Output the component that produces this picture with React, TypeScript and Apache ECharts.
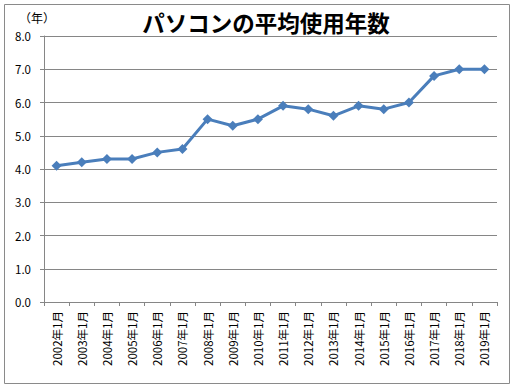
import React, { useEffect, useRef } from "react";
import * as echarts from "echarts";

const categories = [
  "2002年1月", "2003年1月", "2004年1月", "2005年1月", "2006年1月", "2007年1月",
  "2008年1月", "2009年1月", "2010年1月", "2011年1月", "2012年1月", "2013年1月",
  "2014年1月", "2015年1月", "2016年1月", "2017年1月", "2018年1月", "2019年1月",
];
const values = [4.1, 4.2, 4.3, 4.3, 4.5, 4.6, 5.5, 5.3, 5.5, 5.9, 5.8, 5.6, 5.9, 5.8, 6.0, 6.8, 7.0, 7.0];
const titleText = "パソコンの平均使用年数";
const unitText = "（年）";

export default function App() {
  const ref = useRef<HTMLDivElement>(null);
  useEffect(() => {
    if (!ref.current) return;
    const chart = echarts.init(ref.current, null, { renderer: "svg" });
    const font = "'Noto Sans CJK JP', 'Noto Sans', sans-serif";
    chart.setOption({
      animation: false,
      backgroundColor: "#ffffff",
      title: {
        text: titleText,
        left: 261,
        textAlign: "center",
        top: 6,
        textStyle: { fontFamily: font, fontSize: 22.5, fontWeight: "bold", color: "#000" },
      },
      graphic: [
        {
          type: "rect",
          shape: { x: 4.5, y: 4.5, width: 505, height: 379 },
          style: { fill: "none", stroke: "#8a8a8a", lineWidth: 1 },
          silent: true,
        },
        {
          type: "text",
          x: 19,
          y: 11,
          style: { text: unitText, font: `12px ${font}`, fill: "#000" },
        },
      ],
      grid: { left: 44, right: 18, top: 36, bottom: 86, containLabel: false },
      xAxis: {
        type: "category",
        data: categories,
        boundaryGap: true,
        axisLine: { show: true, lineStyle: { color: "#868686", width: 1 } },
        axisTick: { show: true, length: 4, lineStyle: { color: "#868686" } },
        axisLabel: {
          rotate: 90,
          margin: 9,
          fontSize: 11.5,
          fontFamily: font,
          color: "#000",
          interval: 0,
        },
        splitLine: { show: false },
      },
      yAxis: {
        type: "value",
        min: 0,
        max: 8,
        interval: 1,
        axisLine: { show: true, lineStyle: { color: "#868686", width: 1 } },
        axisTick: { show: true, length: 4, lineStyle: { color: "#868686" } },
        axisLabel: {
          formatter: (v: number) => v.toFixed(1),
          fontSize: 11.5,
          fontFamily: font,
          color: "#000",
          margin: 13,
        },
        splitLine: { show: true, lineStyle: { color: "#868686", width: 1 } },
      },
      series: [
        {
          type: "line",
          data: values,
          symbol: "diamond",
          symbolSize: 10,
          lineStyle: { color: "#4a7ebb", width: 3 },
          itemStyle: { color: "#4a7ebb" },
        },
      ],
    });
    return () => chart.dispose();
  }, []);
  return (
    <div
      ref={ref}
      style={{ position: "fixed", left: 0, top: 0, width: 515, height: 388 }}
    />
  );
}
